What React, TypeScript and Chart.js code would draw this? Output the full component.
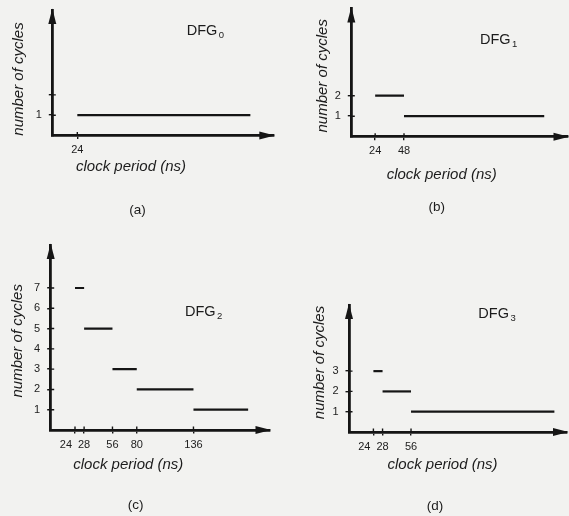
import React, { useEffect, useRef } from 'react';
import { Chart, registerables, LinearScale } from 'chart.js';

// ---------------- data ----------------
// DFG0
const dfg0XTicks = [24];
const dfg0XLabels = ['24'];
const dfg0YTicks = [1, 2];
const dfg0YLabels = ['1', ''];
const dfg0Start = [24];
const dfg0End = [185];
const dfg0Cycles = [1];

// DFG1
const dfg1XTicks = [24, 48];
const dfg1XLabels = ['24', '48'];
const dfg1YTicks = [1, 2];
const dfg1YLabels = ['1', '2'];
const dfg1Start = [24, 48];
const dfg1End = [48, 189];
const dfg1Cycles = [2, 1];

// DFG2
const dfg2XTicks = [24, 28, 56, 80, 136];
const dfg2XLabels = ['24', '28', '56', '80', '136'];
const dfg2YTicks = [1, 2, 3, 4, 5, 6, 7];
const dfg2YLabels = ['1', '2', '3', '4', '5', '6', '7'];
const dfg2Start = [24, 28, 56, 80, 136];
const dfg2End = [28, 56, 80, 136, 190];
const dfg2Cycles = [7, 5, 3, 2, 1];

// DFG3
const dfg3XTicks = [24, 28, 56];
const dfg3XLabels = ['24', '28', '56'];
const dfg3YTicks = [1, 2, 3];
const dfg3YLabels = ['1', '2', '3'];
const dfg3Start = [24, 28, 56];
const dfg3End = [28, 56, 197];
const dfg3Cycles = [3, 2, 1];

const Y_TITLE = 'number of cycles';
const X_TITLE = 'clock period (ns)';

// ---------------- styles / layout ----------------
const INK = '#151515';
const TEXT = '#1c1c1c';
const PAPER = '#f2f2f0';
const FAMILY = '"Liberation Sans", Arial, Helvetica, sans-serif';
const LABEL_GAP = 6;

// schematic (non-proportional) clock-period axis: [value, axis position]
const X_WARP: [number, number][] = [[0, 0], [24, 24], [28, 33]];

function warp(v: number): number {
  const b = X_WARP;
  if (v <= b[0][0]) return b[0][1] + (v - b[0][0]);
  for (let i = 1; i < b.length; i++) {
    if (v <= b[i][0]) {
      const [x0, y0] = b[i - 1];
      const [x1, y1] = b[i];
      return y0 + ((v - x0) * (y1 - y0)) / (x1 - x0);
    }
  }
  const [xl, yl] = b[b.length - 1];
  return yl + (v - xl);
}
function unwarp(u: number): number {
  const b = X_WARP;
  if (u <= b[0][1]) return b[0][0] + (u - b[0][1]);
  for (let i = 1; i < b.length; i++) {
    if (u <= b[i][1]) {
      const [x0, y0] = b[i - 1];
      const [x1, y1] = b[i];
      return x0 + ((u - y0) * (x1 - x0)) / (y1 - y0);
    }
  }
  const [xl, yl] = b[b.length - 1];
  return xl + (u - yl);
}

class WarpScale extends LinearScale {
  static id = 'warp';
  static defaults = LinearScale.defaults;
  getPixelForValue(value: number) {
    const a = warp(this.min);
    const b = warp(this.max);
    return this.getPixelForDecimal((warp(value) - a) / (b - a));
  }
  getValueForPixel(pixel: number) {
    const a = warp(this.min);
    const b = warp(this.max);
    return unwarp(a + this.getDecimalForPixel(pixel) * (b - a));
  }
}

Chart.register(...registerables, WarpScale);

interface PanelDef {
  key: string;
  sub: string;
  caption: string;
  xTicks: number[];
  xLabels: string[];
  yTicks: number[];
  yLabels: string[];
  start: number[];
  end: number[];
  cycles: number[];
  xMax: number;
  yMax: number;
  box: { x: number; y: number; w: number; h: number };
  area: { left: number; top: number; right: number; bottom: number };
  yTitle: [number, number];
  xTitle: [number, number];
  dfg: [number, number];
  cap: [number, number];
}

const PANELS: PanelDef[] = [
  {
    key: 'a', sub: '0', caption: '(a)',
    xTicks: dfg0XTicks, xLabels: dfg0XLabels, yTicks: dfg0YTicks, yLabels: dfg0YLabels,
    start: dfg0Start, end: dfg0End, cycles: dfg0Cycles,
    xMax: 207, yMax: 6.18,
    box: { x: 0, y: 0, w: 284, h: 228 },
    area: { left: 52.3, top: 10, right: 273.3, bottom: 135.5 },
    yTitle: [19, 79], xTitle: [131, 166.7], dfg: [186.7, 30], cap: [137.5, 210],
  },
  {
    key: 'b', sub: '1', caption: '(b)',
    xTicks: dfg1XTicks, xLabels: dfg1XLabels, yTicks: dfg1YTicks, yLabels: dfg1YLabels,
    start: dfg1Start, end: dfg1End, cycles: dfg1Cycles,
    xMax: 212.4, yMax: 6.25,
    box: { x: 284, y: 0, w: 285, h: 228 },
    area: { left: 351.3, top: 8.5, right: 567.5, bottom: 136.7 },
    yTitle: [323.3, 75.8], xTitle: [441.7, 175], dfg: [480, 39], cap: [436.7, 207.3],
  },
  {
    key: 'c', sub: '2', caption: '(c)',
    xTicks: dfg2XTicks, xLabels: dfg2XLabels, yTicks: dfg2YTicks, yLabels: dfg2YLabels,
    start: dfg2Start, end: dfg2End, cycles: dfg2Cycles,
    xMax: 211.1, yMax: 9.12,
    box: { x: 0, y: 228, w: 284, h: 288 },
    area: { left: 50.7, top: 245, right: 269.5, bottom: 430 },
    yTitle: [17.5, 340.8], xTitle: [128.3, 465], dfg: [185, 311], cap: [135.7, 505],
  },
  {
    key: 'd', sub: '3', caption: '(d)',
    xTicks: dfg3XTicks, xLabels: dfg3XLabels, yTicks: dfg3YTicks, yLabels: dfg3YLabels,
    start: dfg3Start, end: dfg3End, cycles: dfg3Cycles,
    xMax: 209.4, yMax: 6.26,
    box: { x: 284, y: 228, w: 285, h: 288 },
    area: { left: 349, top: 305, right: 567, bottom: 432 },
    yTitle: [320, 362.5], xTitle: [442.5, 465], dfg: [478.3, 313], cap: [435, 506.7],
  },
];

function makeDecor(p: PanelDef) {
  return {
    id: 'decor_' + p.key,
    afterDraw(chart: any) {
      const { ctx, chartArea: ca } = chart;
      const xs = chart.scales.x;
      const ys = chart.scales.y;
      const ox = p.box.x;
      const oy = p.box.y;
      ctx.save();
      ctx.fillStyle = INK;
      ctx.strokeStyle = INK;
      ctx.lineWidth = 1.4;
      // inner halves of the cross-shaped tick marks
      ctx.beginPath();
      xs.ticks.forEach((t: any) => {
        const px = xs.getPixelForValue(t.value);
        ctx.moveTo(px, ca.bottom);
        ctx.lineTo(px, ca.bottom - 3.5);
      });
      ys.ticks.forEach((t: any) => {
        const py = ys.getPixelForValue(t.value);
        ctx.moveTo(ca.left, py);
        ctx.lineTo(ca.left + 3.5, py);
      });
      ctx.stroke();
      // arrow heads
      ctx.beginPath();
      ctx.moveTo(ca.left, ca.top - 1.5);
      ctx.lineTo(ca.left - 4, ca.top + 14);
      ctx.lineTo(ca.left + 4, ca.top + 14);
      ctx.closePath();
      ctx.fill();
      ctx.beginPath();
      ctx.moveTo(ca.right + 1.5, ca.bottom);
      ctx.lineTo(ca.right - 14, ca.bottom - 4);
      ctx.lineTo(ca.right - 14, ca.bottom + 4);
      ctx.closePath();
      ctx.fill();

      // x tick labels (crowded labels pushed left)
      ctx.fillStyle = TEXT;
      ctx.font = `11px ${FAMILY}`;
      ctx.textAlign = 'center';
      ctx.textBaseline = 'middle';
      const n = xs.ticks.length;
      const centers: number[] = [];
      const widths: number[] = [];
      for (let i = 0; i < n; i++) {
        centers[i] = xs.getPixelForValue(xs.ticks[i].value);
        widths[i] = ctx.measureText(p.xLabels[i]).width;
      }
      for (let i = n - 2; i >= 0; i--) {
        const limit = centers[i + 1] - widths[i + 1] / 2 - LABEL_GAP;
        if (centers[i] + widths[i] / 2 > limit) centers[i] = limit - widths[i] / 2;
      }
      for (let i = 0; i < n; i++) ctx.fillText(p.xLabels[i], centers[i], ca.bottom + 14.5);

      // axis titles
      ctx.font = `italic 15px ${FAMILY}`;
      ctx.fillText(X_TITLE, p.xTitle[0] - ox, p.xTitle[1] - oy);
      ctx.save();
      ctx.translate(p.yTitle[0] - ox, p.yTitle[1] - oy);
      ctx.rotate(-Math.PI / 2);
      ctx.fillText(Y_TITLE, 0, 0);
      ctx.restore();

      // DFG label with subscript
      ctx.textAlign = 'left';
      ctx.textBaseline = 'alphabetic';
      ctx.font = `14.5px ${FAMILY}`;
      const base = p.dfg[1] - oy + 5;
      const dx = p.dfg[0] - ox;
      ctx.fillText('DFG', dx, base);
      const w = ctx.measureText('DFG').width;
      ctx.font = `9.5px ${FAMILY}`;
      ctx.fillText(p.sub, dx + w + 1.5, base + 2.5);

      // caption
      ctx.textAlign = 'center';
      ctx.textBaseline = 'middle';
      ctx.font = `13.5px ${FAMILY}`;
      ctx.fillText(p.caption, p.cap[0] - ox, p.cap[1] - oy);
      ctx.restore();
    },
  };
}

function zeroPad(s: any) {
  s.paddingTop = 0;
  s.paddingBottom = 0;
  s.paddingLeft = 0;
  s.paddingRight = 0;
}

function buildConfig(p: PanelDef): any {
  const datasets = p.start.map((s, i) => ({
    data: [
      { x: s, y: p.cycles[i] },
      { x: p.end[i], y: p.cycles[i] },
    ],
    borderColor: INK,
    borderWidth: 2.2,
    pointRadius: 0,
    fill: false,
  }));
  const grid = {
    display: true,
    drawOnChartArea: false,
    drawTicks: true,
    tickLength: 3.5,
    tickWidth: 1.4,
    lineWidth: 1.4,
    color: INK,
  };
  const border = { display: true, color: INK, width: 2.8 };
  return {
    type: 'line',
    data: { datasets },
    options: {
      responsive: false,
      animation: false,
      devicePixelRatio: 1,
      events: [],
      layout: {
        padding: {
          left: 0,
          bottom: 0,
          top: p.area.top - p.box.y,
          right: p.box.x + p.box.w - p.area.right,
        },
      },
      plugins: {
        legend: { display: false },
        tooltip: { enabled: false },
        title: { display: false },
      },
      scales: {
        x: {
          type: 'warp',
          position: 'bottom',
          min: 0,
          max: p.xMax,
          afterBuildTicks: (s: any) => {
            s.ticks = p.xTicks.map((v) => ({ value: v }));
          },
          afterFit: (s: any) => {
            s.height = p.box.y + p.box.h - p.area.bottom;
            zeroPad(s);
          },
          ticks: { display: false, autoSkip: false },
          grid,
          border,
        },
        y: {
          type: 'linear',
          position: 'left',
          min: 0,
          max: p.yMax,
          afterBuildTicks: (s: any) => {
            s.ticks = p.yTicks.map((v) => ({ value: v }));
          },
          afterFit: (s: any) => {
            s.width = p.area.left - p.box.x;
            zeroPad(s);
          },
          ticks: {
            autoSkip: false,
            padding: 7,
            color: TEXT,
            font: { family: FAMILY, size: 11 },
            callback: (_v: any, i: number) => p.yLabels[i],
          },
          grid,
          border,
        },
      },
    },
    plugins: [makeDecor(p)],
  };
}

function Panel({ p }: { p: PanelDef }) {
  const ref = useRef<HTMLCanvasElement>(null);
  useEffect(() => {
    const chart = new Chart(ref.current as HTMLCanvasElement, buildConfig(p));
    return () => chart.destroy();
  }, [p]);
  return (
    <canvas
      ref={ref}
      width={p.box.w}
      height={p.box.h}
      style={{
        position: 'absolute',
        left: p.box.x,
        top: p.box.y,
        width: p.box.w,
        height: p.box.h,
      }}
    />
  );
}

export default function App() {
  return (
    <div
      style={{
        position: 'fixed',
        left: 0,
        top: 0,
        width: 569,
        height: 516,
        background: PAPER,
        overflow: 'hidden',
      }}
    >
      {PANELS.map((p) => (
        <Panel key={p.key} p={p} />
      ))}
    </div>
  );
}
